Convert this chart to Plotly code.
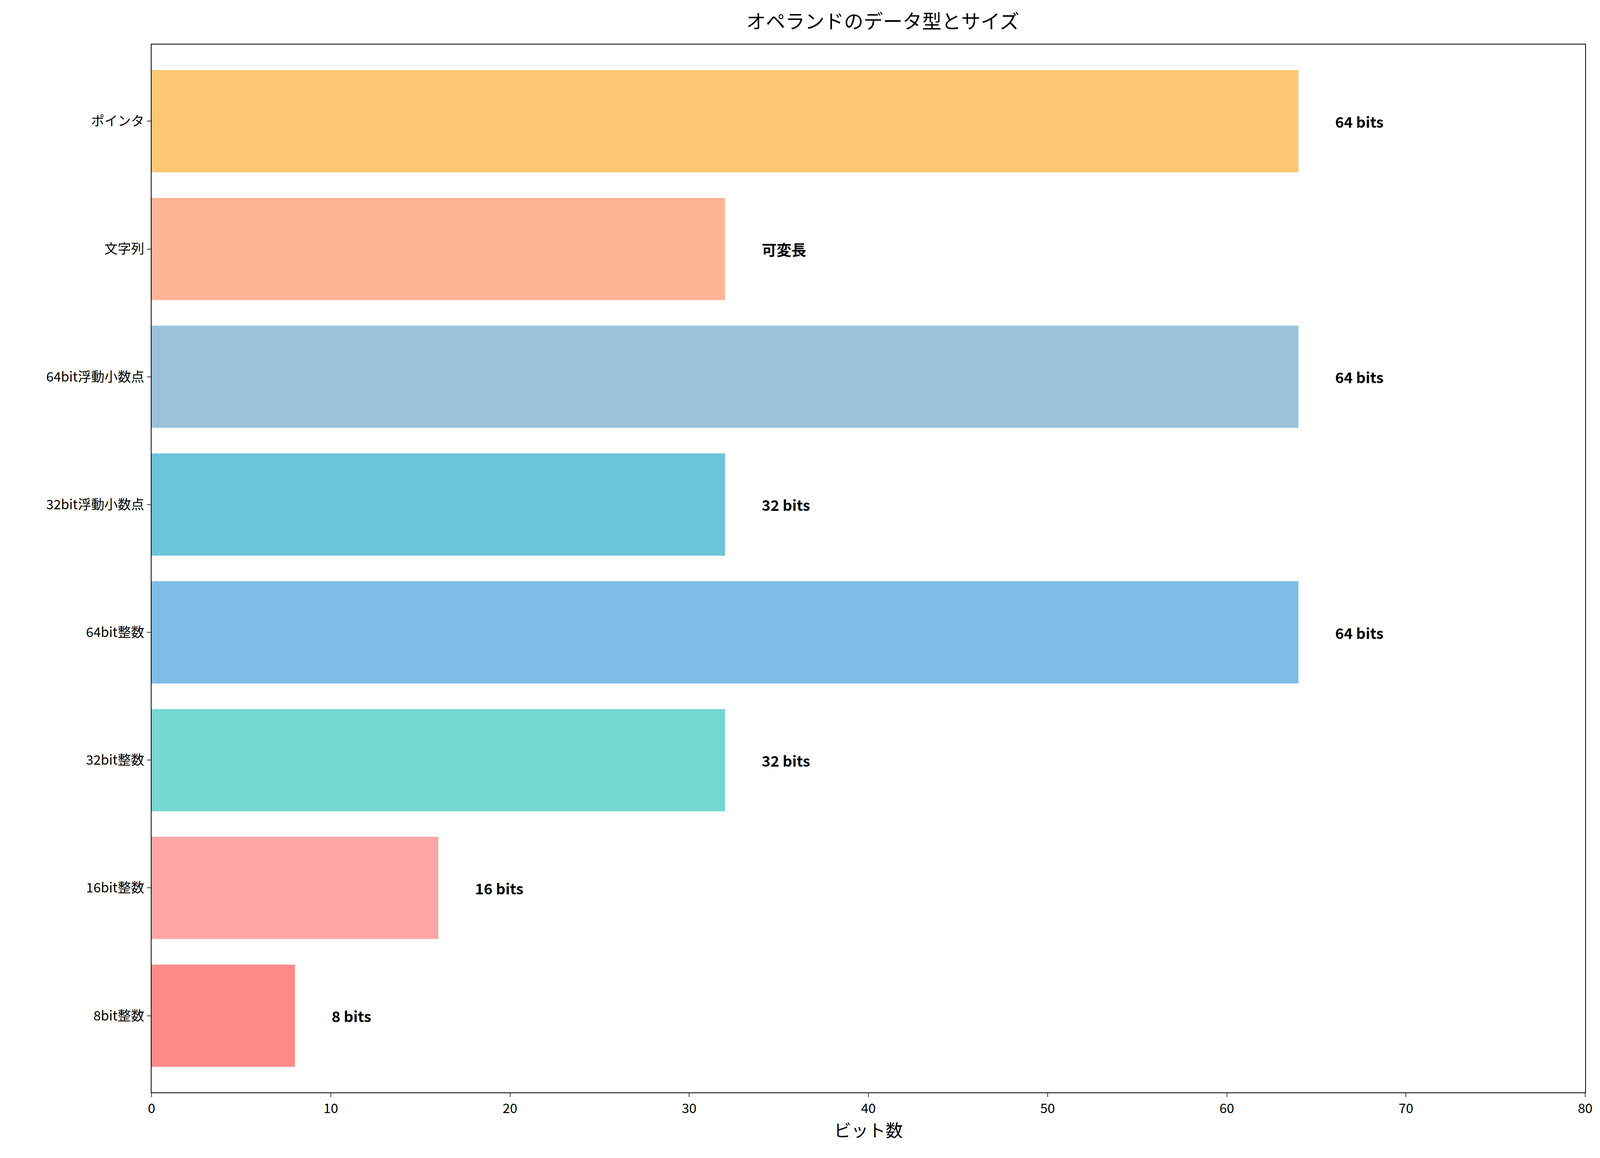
import plotly.graph_objects as go

categories = ["8bit整数", "16bit整数", "32bit整数", "64bit整数", "32bit浮動小数点", "64bit浮動小数点", "文字列", "ポインタ"]
sizes = [8, 16, 32, 64, 32, 64, 32, 64]
labels = ["8 bits", "16 bits", "32 bits", "64 bits", "32 bits", "64 bits", "可変長", "64 bits"]
colors = ["#FF8989", "#FFA5A5", "#74D7D0", "#7FBCE6", "#6AC4DA", "#9AC2DB", "#FFB495", "#FFC774"]
xticks = [0, 10, 20, 30, 40, 50, 60, 70, 80]

font = "Noto Sans CJK JP"
fig = go.Figure(go.Bar(x=sizes, y=categories, orientation="h", marker=dict(color=colors, line=dict(width=0)), width=0.8))
for c, v, t in zip(categories, sizes, labels):
    fig.add_annotation(x=v + 2, y=c, text=f"<b>{t}</b>", showarrow=False, xanchor="left",
                       font=dict(family=font, size=38, color="black"))
fig.update_layout(
    width=4170, height=2965, plot_bgcolor="white", paper_bgcolor="white",
    margin=dict(l=380, r=120, t=106, b=176),
    title=dict(text="オペランドのデータ型とサイズ", x=0.54, xanchor="center", y=0.99, yanchor="top",
               font=dict(family=font, size=50, color="black")),
    font=dict(family=font, size=34, color="black"),
    showlegend=False,
)
fig.update_xaxes(range=[0, 80], tickvals=xticks, showgrid=False, zeroline=False, showline=True, mirror=True,
                 linecolor="black", linewidth=2, ticks="outside", ticklen=10, tickwidth=2,
                 title=dict(text="ビット数", font=dict(size=44), standoff=10))
fig.update_yaxes(range=[-0.6, 7.6], showgrid=False, zeroline=False, showline=True, mirror=True,
                 linecolor="black", linewidth=2, ticks="outside", ticklen=10, tickwidth=2)
fig.write_html("out.html")
